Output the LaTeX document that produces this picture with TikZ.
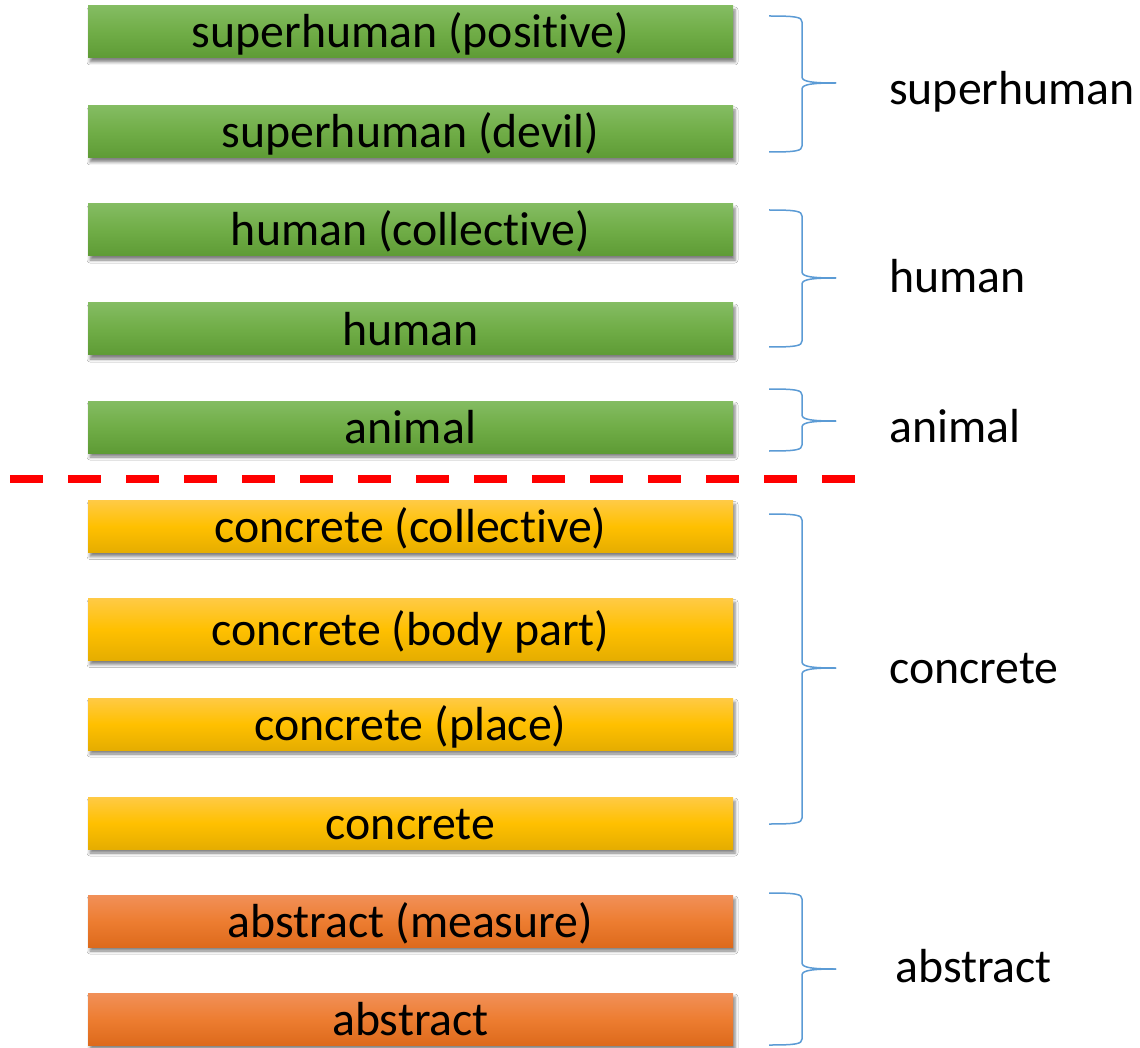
\documentclass[tikz,border=0pt]{standalone}
\usepackage{fontspec}
\setmainfont[RawFeature={-liga;-clig;-calt;-dlig}]{Carlito}
\usetikzlibrary{shadows.blur}
\definecolor{gtop}{HTML}{84BC62}
\definecolor{gmid}{HTML}{70AD47}
\definecolor{gbot}{HTML}{5E9B35}
\definecolor{ytop}{HTML}{FFCA45}
\definecolor{ymid}{HTML}{FFC000}
\definecolor{ybot}{HTML}{E5AD00}
\definecolor{otop}{HTML}{F19058}
\definecolor{omid}{HTML}{ED7D31}
\definecolor{obot}{HTML}{DD6A1C}
\definecolor{bracecol}{HTML}{5B9BD5}
\definecolor{dashred}{HTML}{FF0000}
\tikzset{
  catbox/.style={rectangle, minimum width=645pt, minimum height=52pt, inner sep=0pt,
    text height=36pt, text depth=4pt, font=\fontsize{47.8}{50}\selectfont,
    blur shadow={shadow xshift=2pt, shadow yshift=-4pt, shadow blur radius=3pt, shadow opacity=50}},
  greenbox/.style={catbox, top color=gtop, bottom color=gbot, middle color=gmid},
  yellowbox/.style={catbox, top color=ytop, bottom color=ybot, middle color=ymid},
  orangebox/.style={catbox, top color=otop, bottom color=obot, middle color=omid},
  bracestyle/.style={draw=bracecol, line width=1.5pt},
  grouplabel/.style={anchor=base west, inner sep=0pt, font=\fontsize{47.8}{50}\selectfont},
}
\newcommand{\mybrace}[3]{%
  \draw[bracestyle] (769,#1) .. controls (796,#1) and (802,#1+1) .. (802,#1+6)
     -- (802,#2-6) .. controls (802,#2-1) and (814,#2) .. (836,#2);
  \draw[bracestyle] (769,#3) .. controls (796,#3) and (802,#3-1) .. (802,#3-6)
     -- (802,#2+6) .. controls (802,#2+1) and (814,#2) .. (836,#2);
}
\begin{document}
\begin{tikzpicture}[x=1pt,y=-1pt]
\useasboundingbox (0,0) rectangle (1140,1048);
\fill[white] (0,0) rectangle (1140,1048);

% boxes
\node[greenbox] (b1) at (410.5,32) {superhuman (positive)};
\node[greenbox] (b2) at (410.5,132) {superhuman (devil)};
\node[greenbox] (b3) at (410.5,230) {human (collective)};
\node[greenbox] (b4) at (410.5,329) {human};
\node[greenbox] (b5) at (410.5,427) {animal};
\node[yellowbox] (b6) at (410.5,526.5) {concrete (collective)};
\node[yellowbox, minimum height=62pt] (b7) at (410.5,629.5) {concrete (body part)};
\node[yellowbox] (b8) at (410.5,724) {concrete (place)};
\node[yellowbox] (b9) at (410.5,823) {concrete};
\node[orangebox] (b10) at (410.5,921) {abstract (measure)};
\node[orangebox] (b11) at (410.5,1019) {abstract};

% dashed separator
\coordinate (dl) at (10,479);
\coordinate (dr) at (860,479);
\draw[dashred, line width=7.5pt, dash pattern=on 33pt off 25pt] (dl) -- (dr);

% braces
\mybrace{16}{83}{152}
\mybrace{210}{278}{347}
\mybrace{389}{421}{451}
\mybrace{514}{668}{824}
\mybrace{893}{969}{1045}

% group labels
\node[grouplabel] (l1) at (889,105) {superhuman};
\node[grouplabel] (l2) at (889,293) {human};
\node[grouplabel] (l3) at (889,442) {animal};
\node[grouplabel] (l4) at (889,683) {concrete};
\node[grouplabel] (l5) at (895,982) {abstract};
\end{tikzpicture}
\end{document}
